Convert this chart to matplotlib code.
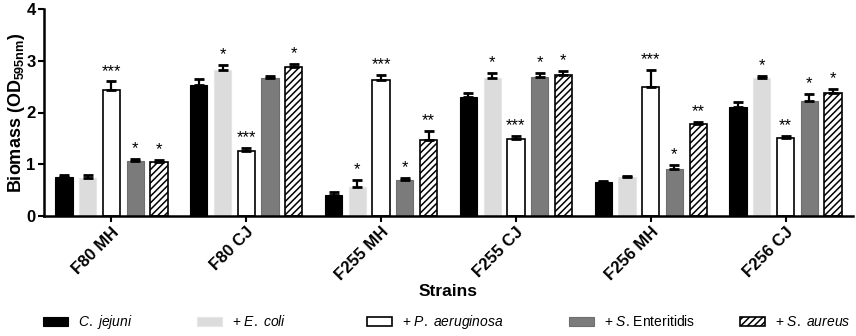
import matplotlib
matplotlib.use("Agg")
import matplotlib.pyplot as plt
import numpy as np
from matplotlib.patches import Patch

plt.rcParams["font.family"] = ["Liberation Sans", "DejaVu Sans"]
plt.rcParams["mathtext.fontset"] = "custom"
plt.rcParams["mathtext.rm"] = "Liberation Sans"
plt.rcParams["mathtext.it"] = "Liberation Sans:italic"
plt.rcParams["mathtext.bf"] = "Liberation Sans:bold"
plt.rcParams["hatch.linewidth"] = 1.1

strains = ["F80 MH", "F80 CJ", "F255 MH", "F255 CJ", "F256 MH", "F256 CJ"]
series = ["C. jejuni", "+ E. coli", "+ P. aeruginosa", "+ S. Enteritidis", "+ S. aureus"]
legend_labels = [
    r"$\mathit{C.\ jejuni}$",
    r"+ $\mathit{E.\ coli}$",
    r"+ $\mathit{P.\ aeruginosa}$",
    r"+ $\mathit{S}$. Enteritidis",
    r"+ $\mathit{S.\ aureus}$",
]

# biomass means per series, one value per strain
c_jejuni = [0.76, 2.53, 0.41, 2.30, 0.65, 2.11]
e_coli = [0.74, 2.82, 0.57, 2.66, 0.75, 2.66]
p_aeruginosa = [2.44, 1.26, 2.62, 1.48, 2.50, 1.51]
s_enteritidis = [1.06, 2.66, 0.70, 2.68, 0.91, 2.23]
s_aureus = [1.04, 2.87, 1.47, 2.72, 1.77, 2.38]

# upper error (SD)
c_jejuni_err = [0.03, 0.11, 0.06, 0.07, 0.03, 0.09]
e_coli_err = [0.05, 0.10, 0.12, 0.11, 0.03, 0.05]
p_aeruginosa_err = [0.16, 0.05, 0.11, 0.06, 0.32, 0.03]
s_enteritidis_err = [0.05, 0.05, 0.03, 0.08, 0.08, 0.13]
s_aureus_err = [0.05, 0.06, 0.17, 0.09, 0.05, 0.08]

# significance marks
c_jejuni_sig = ["", "", "", "", "", ""]
e_coli_sig = ["", "*", "*", "*", "", "*"]
p_aeruginosa_sig = ["***", "***", "***", "***", "***", "**"]
s_enteritidis_sig = ["*", "", "*", "*", "*", "*"]
s_aureus_sig = ["*", "*", "**", "*", "**", "*"]

values = [c_jejuni, e_coli, p_aeruginosa, s_enteritidis, s_aureus]
errors = [c_jejuni_err, e_coli_err, p_aeruginosa_err, s_enteritidis_err, s_aureus_err]
sigs = [c_jejuni_sig, e_coli_sig, p_aeruginosa_sig, s_enteritidis_sig, s_aureus_sig]

styles = [
    dict(color="#000000", edgecolor="#000000", linewidth=0.8),
    dict(color="#dcdcdc", edgecolor="#e6e6e6", linewidth=0.8),
    dict(color="#ffffff", edgecolor="#000000", linewidth=1.2),
    dict(color="#7b7b7b", edgecolor="#6e6e6e", linewidth=0.8),
    dict(color="#ffffff", edgecolor="#000000", linewidth=1.2, hatch="/////"),
]

fig = plt.figure(figsize=(8.56, 3.36), dpi=100)
ax = fig.add_axes([44 / 856, 1 - 216 / 336, 809 / 856, 207 / 336])

x = np.arange(len(strains))
pitch = 0.176
width = 0.128
for i, (vals, errs, sg, st) in enumerate(zip(values, errors, sigs, styles)):
    xs = x + (i - 2) * pitch
    ax.bar(xs, vals, width=width, zorder=2, **st)
    ax.errorbar(xs, vals, yerr=[np.zeros(len(vals)), errs], fmt="none",
                ecolor="black", elinewidth=1.6, capsize=3.5, capthick=2.0, zorder=3)
    for xi, v, e, s in zip(xs, vals, errs, sg):
        if s:
            ax.annotate(s, (xi, v + e), xytext=(0, 2), textcoords="offset points",
                        ha="center", va="bottom", fontsize=12)

ax.set_xlim(-0.5, 5.5)
ax.set_ylim(0, 4)
ax.set_yticks([0, 1, 2, 3, 4])
ax.set_xticks(x)
ax.set_xticklabels(strains, rotation=45, ha="right", rotation_mode="anchor",
                   fontsize=12, fontweight="bold")
for lbl in ax.get_yticklabels():
    lbl.set_fontweight("bold")
    lbl.set_fontsize(12)
ax.tick_params(axis="both", direction="out", length=4, width=1.5, color="black")
ax.tick_params(axis="x", pad=2)
ax.tick_params(axis="y", pad=2)
for side in ("top", "right"):
    ax.spines[side].set_visible(False)
for side in ("left", "bottom"):
    ax.spines[side].set_linewidth(1.8)

ax.set_ylabel(r"Biomass (OD$_{\mathbf{595nm}}$)", fontsize=13, fontweight="bold")
ax.yaxis.set_label_coords(-(44 - 27) / 809, 0.5)
ax.set_xlabel("Strains", fontsize=12.5, fontweight="bold", labelpad=2)
ax.xaxis.set_label_coords(0.5, -(284 - 216) / 207)

# legend entries spread along the bottom
legend_x = [43, 197, 367, 569, 740]
for lx, lab, st in zip(legend_x, legend_labels, styles):
    h = Patch(facecolor=st["color"], edgecolor=st["edgecolor"],
              linewidth=st["linewidth"], hatch=st.get("hatch"))
    fig.legend([h], [lab], loc="center left", bbox_to_anchor=(lx / 856, 1 - 322 / 336),
               frameon=False, fontsize=10, handlelength=1.8, handleheight=0.6,
               handletextpad=0.7, borderpad=0, borderaxespad=0)

fig.savefig("out.png", dpi=100)
